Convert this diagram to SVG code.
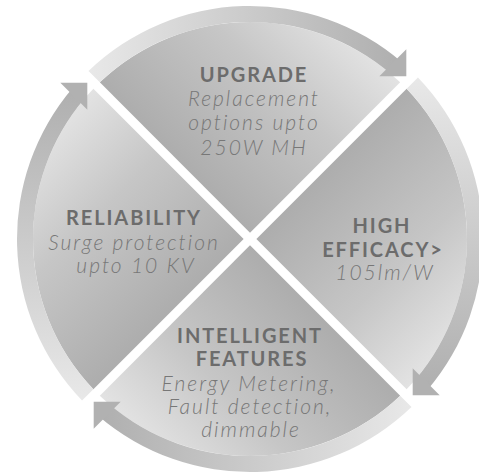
<svg xmlns="http://www.w3.org/2000/svg" width="479" height="473" viewBox="0 0 479 473">
  <defs>
    <!-- quadrant fill: dark along the leading edge, light toward the trailing rim -->
    <linearGradient id="wedgeFill" gradientUnits="userSpaceOnUse" x1="250" y1="239" x2="411" y2="78">
      <stop offset="0" stop-color="#acacac"/>
      <stop offset="0.55" stop-color="#c6c6c6"/>
      <stop offset="1" stop-color="#e6e6e6"/>
    </linearGradient>
    <!-- arrow shaft: light at the tail, darker toward the head -->
    <linearGradient id="shaftFill" gradientUnits="userSpaceOnUse" x1="90" y1="70" x2="400" y2="70">
      <stop offset="0" stop-color="#e8e8e8"/>
      <stop offset="1" stop-color="#afafaf"/>
    </linearGradient>
    <path id="wedge" d="M250,232.64 L99.81,82.37 A217,217 0 0 1 400.19,82.37 Z"/>
    <g id="arc-arrow">
      <path d="M88.50,71.05 A233,233 0 0 1 401.32,61.83 L390.93,74.00 A217,217 0 0 0 99.81,82.37 Z" fill="url(#shaftFill)"/>
      <polygon points="406.3,76.3 379.3,76.3 406.3,49.3" fill="#b1b1b1"/>
    </g>
    <style>
      .wedge { fill: url(#wedgeFill); }
      .title { font-family: Lato, "Open Sans", sans-serif; font-weight: 700; font-size: 20px; letter-spacing: 1.9px; fill: #6c6c6c; text-anchor: middle; }
      .desc { font-family: Lato, "Open Sans", sans-serif; font-style: italic; font-weight: 300; font-size: 21px; letter-spacing: 2px; fill: #777777; text-anchor: middle; }
    </style>
  </defs>

  <g id="upgrade">
    <use href="#wedge" class="wedge"/>
    <text class="title" x="254" y="82">UPGRADE</text>
    <text class="desc" x="254" y="106">Replacement</text>
    <text class="desc" x="254" y="130">options upto</text>
    <text class="desc" x="254" y="155">250W MH</text>
  </g>

  <g id="high-efficacy">
    <use href="#wedge" class="wedge" transform="rotate(90 250 239)"/>
    <text class="title" x="382" y="233">HIGH</text>
    <text class="title" x="383" y="257">EFFICACY&gt;</text>
    <text class="desc" x="385" y="280">105lm/W</text>
  </g>

  <g id="intelligent-features">
    <use href="#wedge" class="wedge" transform="rotate(180 250 239)"/>
    <text class="title" x="250" y="343">INTELLIGENT</text>
    <text class="title" x="252" y="366">FEATURES</text>
    <text class="desc" x="249" y="391">Energy Metering,</text>
    <text class="desc" x="250" y="414">Fault detection,</text>
    <text class="desc" x="251" y="437">dimmable</text>
  </g>

  <g id="reliability">
    <use href="#wedge" class="wedge" transform="rotate(270 250 239)"/>
    <text class="title" x="134" y="225">RELIABILITY</text>
    <text class="desc" x="134" y="250">Surge protection</text>
    <text class="desc" x="136" y="273">upto 10 KV</text>
  </g>

  <!-- clockwise cycle arrows around the rim -->
  <g id="connectors">
    <use href="#arc-arrow"/>
    <use href="#arc-arrow" transform="rotate(90 250 239)"/>
    <use href="#arc-arrow" transform="rotate(180 250 239)"/>
    <use href="#arc-arrow" transform="rotate(270 250 239)"/>
  </g>
</svg>
